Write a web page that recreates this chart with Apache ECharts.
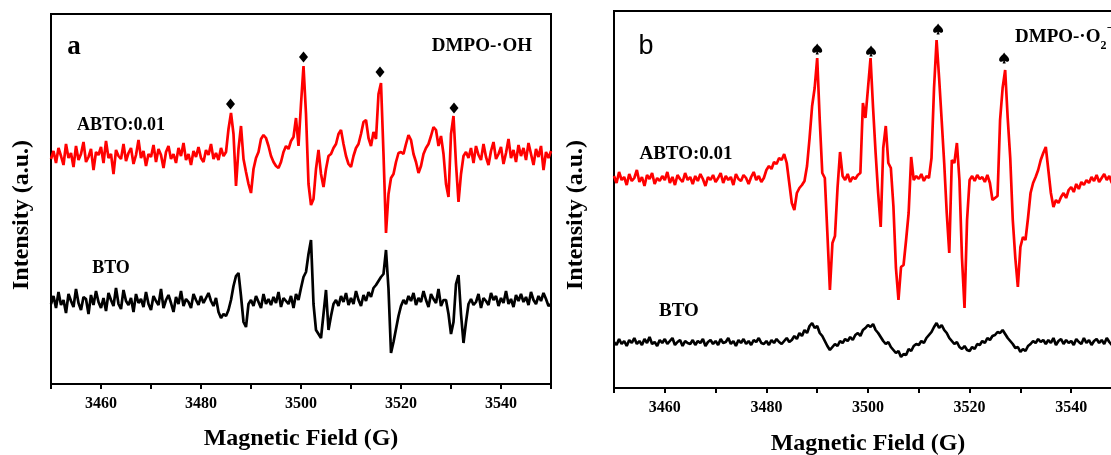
<!DOCTYPE html>
<html>
<head>
<meta charset="utf-8">
<script src="https://cdn.jsdelivr.net/npm/echarts@6/dist/echarts.min.js"></script>
<style>
html,body{margin:0;padding:0;background:#fff;}
#chart{width:1111px;height:455px;}
</style>
</head>
<body>
<div id="chart"></div>
<script>
// Magnetic field grid (G), shared by all four spectra
const field = [
3450,3450.5,3451,3451.5,3452,3452.5,3453,3453.5,3454,3454.5,
3455,3455.5,3456,3456.5,3457,3457.5,3458,3458.5,3459,3459.5,
3460,3460.5,3461,3461.5,3462,3462.5,3463,3463.5,3464,3464.5,
3465,3465.5,3466,3466.5,3467,3467.5,3468,3468.5,3469,3469.5,
3470,3470.5,3471,3471.5,3472,3472.5,3473,3473.5,3474,3474.5,
3475,3475.5,3476,3476.5,3477,3477.5,3478,3478.5,3479,3479.5,
3480,3480.5,3481,3481.5,3482,3482.5,3483,3483.5,3484,3484.5,
3485,3485.5,3486,3486.5,3487,3487.5,3488,3488.5,3489,3489.5,
3490,3490.5,3491,3491.5,3492,3492.5,3493,3493.5,3494,3494.5,
3495,3495.5,3496,3496.5,3497,3497.5,3498,3498.5,3499,3499.5,
3500,3500.5,3501,3501.5,3502,3502.5,3503,3503.5,3504,3504.5,
3505,3505.5,3506,3506.5,3507,3507.5,3508,3508.5,3509,3509.5,
3510,3510.5,3511,3511.5,3512,3512.5,3513,3513.5,3514,3514.5,
3515,3515.5,3516,3516.5,3517,3517.5,3518,3518.5,3519,3519.5,
3520,3520.5,3521,3521.5,3522,3522.5,3523,3523.5,3524,3524.5,
3525,3525.5,3526,3526.5,3527,3527.5,3528,3528.5,3529,3529.5,
3530,3530.5,3531,3531.5,3532,3532.5,3533,3533.5,3534,3534.5,
3535,3535.5,3536,3536.5,3537,3537.5,3538,3538.5,3539,3539.5,
3540,3540.5,3541,3541.5,3542,3542.5,3543,3543.5,3544,3544.5,
3545,3545.5,3546,3546.5,3547,3547.5,3548,3548.5,3549,3549.5,
3550
];

// Panel a: DMPO-·OH  (intensity, arbitrary units)
const ohABTO = [
225,233,221,236,228,219,240,226,231,217,
238,224,230,242,222,227,235,214,232,229,
237,221,243,226,230,210,234,228,225,240,
223,231,236,220,229,244,226,233,218,230,
227,239,222,235,229,216,232,238,225,230,
221,236,228,241,224,230,219,233,227,237,
226,222,234,229,240,225,231,224,236,228,
232,255,271,250,198,235,258,225,212,200,
191,215,226,232,245,249,246,238,228,222,
218,216,222,232,238,235,243,247,266,238,
280,318,270,200,179,185,215,234,210,197,
215,228,230,236,240,250,254,240,228,220,
217,228,236,240,250,262,264,246,238,252,
245,290,301,230,151,190,206,210,222,231,
232,230,240,249,244,230,222,211,218,230,
236,240,248,257,254,238,248,230,200,187,
250,268,220,182,210,228,232,226,236,221,
238,229,224,240,227,219,233,242,225,230,
237,220,231,245,226,234,222,239,228,236,
224,241,230,219,235,227,238,214,232,226,
233
];
const ohBTO = [
80,88,76,92,79,84,71,90,83,77,
95,81,74,87,85,70,89,79,93,82,
76,86,73,91,84,78,96,80,75,94,
83,79,86,72,90,81,85,77,92,80,
74,88,83,79,95,76,84,89,81,72,
87,80,93,78,85,82,76,90,84,79,
88,81,86,91,83,78,86,72,66,70,
68,74,84,98,108,111,88,62,57,80,
84,78,88,82,76,90,80,85,79,87,
81,92,77,86,83,80,88,76,90,84,
96,107,112,130,144,80,54,50,46,70,
94,54,68,80,84,78,88,82,91,79,
86,80,93,84,78,89,83,92,87,96,
99,103,107,110,134,95,31,42,55,68,
78,84,80,88,83,91,79,86,82,93,
84,77,90,85,81,95,78,84,84,70,
50,62,100,109,70,41,62,80,85,79,
82,90,76,86,83,79,91,84,88,78,
86,81,93,80,85,77,89,83,90,82,
87,79,92,84,80,88,83,91,85,78,
80
];
// diamond markers (field, intensity)
const ohMarkX = [3485.9, 3500.5, 3515.8, 3530.6];
const ohMarkY = [280, 327, 312, 276];

// Panel b: DMPO-·O2−
const o2ABTO = [
212,205,216,208,211,203,214,207,210,218,
206,211,202,213,209,215,204,210,207,212,
208,216,205,211,203,213,209,206,215,208,
211,204,212,207,214,209,202,211,208,213,
206,210,215,205,212,208,211,203,214,209,
207,213,210,204,211,216,208,212,206,210,
218,222,219,226,224,230,228,234,225,205,
185,178,195,200,203,207,222,250,282,300,
330,268,215,210,155,98,145,152,200,236,
212,208,214,206,211,209,213,215,285,270,
300,330,280,235,195,161,240,262,225,220,
182,120,88,121,123,148,175,231,208,212,
209,214,207,212,210,230,300,348,310,268,
225,175,135,228,225,245,208,130,80,168,
208,212,207,213,209,211,206,213,205,188,
190,192,268,300,318,270,230,168,130,101,
141,151,148,170,195,205,211,218,228,235,
241,218,195,181,188,185,191,195,190,198,
201,196,204,199,206,203,208,205,211,207,
213,206,210,214,208,212,205,211,209,213,
208
];
const o2BTO = [
46,43,49,44,47,42,48,45,50,44,
47,43,49,45,51,44,46,42,48,45,
49,44,47,50,43,46,48,42,47,45,
44,48,43,47,45,49,42,46,48,44,
47,43,49,45,46,50,44,47,42,48,
45,49,44,47,43,48,46,50,45,44,
47,43,48,45,49,46,44,47,50,46,
48,52,49,55,52,58,55,62,65,60,
62,55,52,47,42,38,41,44,42,47,
45,49,47,51,48,53,55,52,58,60,
63,61,64,58,55,51,47,44,46,41,
38,35,37,31,34,33,39,37,42,44,
43,47,45,50,53,56,61,65,60,63,
58,55,50,47,44,46,41,39,42,38,
37,41,39,44,43,47,45,50,48,52,
53,56,55,58,54,50,47,44,40,41,
36,39,37,42,44,47,45,49,46,48,
44,48,45,50,43,47,49,44,48,45,
47,43,49,46,44,50,45,48,43,47,
49,45,48,44,50,46,43,48,45,49,
46
];
// spade markers (field, intensity)
const o2MarkX = [3490.0, 3500.6, 3513.8, 3526.8];
const o2MarkY = [339, 337, 359, 330];

const pairs = (xs, ys) => xs.map((x, i) => [x, ys[i]]);

const SERIF = '"Liberation Serif", "Times New Roman", serif';
const spade = 'path://M50 0 C35 25 0 40 0 65 C0 85 25 92 44 76 L34 100 L66 100 L56 76 C75 92 100 85 100 65 C100 40 65 25 50 0 Z';

function xAxisCfg(gi, nameGap, margin) {
  return {
    type: 'value', gridIndex: gi, min: 3450, max: 3550, interval: 10,
    axisLine: { lineStyle: { color: '#000', width: 2 } },
    axisTick: { show: true, length: 5, lineStyle: { color: '#000', width: 2 } },
    axisLabel: { color: '#000', fontFamily: SERIF, fontWeight: 'bold', fontSize: 16, margin: margin,
                 formatter: v => (v % 20 === 0 ? String(v) : '') },
    splitLine: { show: false },
    name: 'Magnetic Field (G)', nameLocation: 'middle', nameGap: nameGap,
    nameTextStyle: { color: '#000', fontFamily: SERIF, fontWeight: 'bold', fontSize: 24 }
  };
}
function yAxisCfg(gi, max) {
  return {
    type: 'value', gridIndex: gi, min: 0, max: max,
    axisLine: { show: true, lineStyle: { color: '#000', width: 2 } },
    axisTick: { show: false }, axisLabel: { show: false }, splitLine: { show: false }
  };
}
function txt(x, y, text, size, extra) {
  return Object.assign({
    type: 'text', x: x, y: y, z: 100,
    style: { text: text, font: 'bold ' + size + 'px ' + SERIF, fill: '#000', align: 'center', verticalAlign: 'middle' }
  }, extra || {});
}

const chart = echarts.init(document.getElementById('chart'), null, { renderer: 'canvas' });
chart.setOption({
  animation: false,
  backgroundColor: '#fff',
  grid: [
    { left: 51, top: 14, width: 500, height: 370, show: true, borderColor: '#000', borderWidth: 2,
      containLabel: false, outerBoundsMode: 'none' },
    { left: 614, top: 11, width: 508, height: 377, show: true, borderColor: '#000', borderWidth: 2,
      containLabel: false, outerBoundsMode: 'none' }
  ],
  xAxis: [xAxisCfg(0, 43, 12), xAxisCfg(1, 44, 12)],
  yAxis: [yAxisCfg(0, 370), yAxisCfg(1, 377)],
  series: [
    { type: 'line', xAxisIndex: 0, yAxisIndex: 0, data: pairs(field, ohABTO), showSymbol: false,
      lineStyle: { color: '#ff0000', width: 2.7 }, z: 3 },
    { type: 'line', xAxisIndex: 0, yAxisIndex: 0, data: pairs(field, ohBTO), showSymbol: false,
      lineStyle: { color: '#000', width: 2.7 }, z: 3 },
    { type: 'scatter', xAxisIndex: 0, yAxisIndex: 0, data: pairs(ohMarkX, ohMarkY), symbol: 'diamond',
      symbolSize: [9, 11], itemStyle: { color: '#000', opacity: 1 }, z: 4 },
    { type: 'line', xAxisIndex: 1, yAxisIndex: 1, data: pairs(field, o2ABTO), showSymbol: false,
      lineStyle: { color: '#ff0000', width: 2.7 }, z: 3 },
    { type: 'line', xAxisIndex: 1, yAxisIndex: 1, data: pairs(field, o2BTO), showSymbol: false,
      lineStyle: { color: '#000', width: 2.7 }, z: 3 },
    { type: 'scatter', xAxisIndex: 1, yAxisIndex: 1, data: pairs(o2MarkX, o2MarkY), symbol: spade,
      symbolSize: [10, 11], itemStyle: { color: '#000', opacity: 1 }, z: 4 }
  ],
  graphic: [
    txt(22, 215, 'Intensity (a.u.)', 24, { rotation: Math.PI / 2 }),
    txt(576, 215, 'Intensity (a.u.)', 24, { rotation: Math.PI / 2 }),
    txt(74, 47, 'a', 27),
    { type: 'text', x: 646, y: 47, z: 100,
      style: { text: 'b', font: '27px "Liberation Sans", Arial, sans-serif', fill: '#000', align: 'center', verticalAlign: 'middle' } },
    txt(121, 125, 'ABTO:0.01', 18),
    txt(111, 268, 'BTO', 18),
    txt(482, 46, 'DMPO-·OH', 19),
    txt(686, 154, 'ABTO:0.01', 19),
    txt(679, 311, 'BTO', 19),
    { type: 'text', x: 1015, y: 37, z: 100,
      style: {
        text: '{m|DMPO-·O}{s|2}{p|−}', align: 'left', verticalAlign: 'middle', fill: '#000',
        rich: {
          m: { font: 'bold 19px ' + SERIF, fill: '#000', lineHeight: 30, verticalAlign: 'middle' },
          s: { font: 'bold 12px ' + SERIF, fill: '#000', lineHeight: 30, verticalAlign: 'bottom' },
          p: { font: 'bold 13px ' + SERIF, fill: '#000', lineHeight: 30, verticalAlign: 'top' }
        }
      } }
  ]
});
</script>
</body>
</html>
